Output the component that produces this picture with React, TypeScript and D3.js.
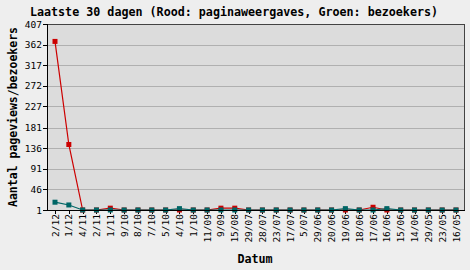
import React from "react";
import * as d3 from "d3";

const dates = ["2/12","1/12","4/11","2/11","1/11","9/10","8/10","7/10","5/10","4/10","1/10","11/09","9/09","15/08","29/07","28/07","23/07","17/07","5/07","29/06","20/06","19/06","18/06","17/06","16/06","15/06","14/06","29/05","23/05","16/05"];
const pageviews = [369,144,1,1,5,1,1,1,1,1,1,1,5,5,1,1,1,1,1,1,1,1,1,7,1,1,1,1,1,1];
const visitors = [18,12,1,1,1,1,1,1,1,4,1,1,1,1,1,1,1,1,1,1,1,4,1,1,4,1,1,1,1,1];
const yTicks = [1,46,91,136,181,227,272,317,362,407];

const W = 470, H = 270;
const L = 47, R = 465, T = 24, B = 210;
const mono = "'DejaVu Sans Mono', monospace";

export default function App() {
  const x = d3.scalePoint<string>().domain(dates).range([55, 456]);
  const y = d3.scaleLinear().domain([1, 407]).range([B, T]);
  const line = (vals: number[]) =>
    d3.line<number>().x((_, i) => x(dates[i])!).y((v) => y(v))(vals) || "";
  const ms = 5;
  return (
    <svg width={W} height={H} style={{ position: "absolute", left: 0, top: 0 }}>
      <rect x={0} y={0} width={W} height={H} fill="#eeeeee" />
      <text x={234} y={16} textAnchor="middle" fontFamily={mono} fontWeight="bold" fontSize={11.7} fill="#000">
        Laatste 30 dagen (Rood: paginaweergaves, Groen: bezoekers)
      </text>
      <rect x={L} y={T} width={R - L} height={B - T} fill="#dcdcdc" />
      {yTicks.slice(1, -1).map((t) => (
        <line key={t} x1={L} x2={R} y1={Math.round(y(t)) + 0.5} y2={Math.round(y(t)) + 0.5} stroke="#b0b0b0" />
      ))}
      <line x1={L} x2={R} y1={T + 0.5} y2={T + 0.5} stroke="#444" />
      <line x1={R - 0.5} x2={R - 0.5} y1={T} y2={B} stroke="#444" />
      <line x1={L + 0.5} x2={L + 0.5} y1={T} y2={B} stroke="#000" />
      {yTicks.map((t) => (
        <g key={t}>
          <line x1={L - 4} x2={L} y1={Math.round(y(t)) + 0.5} y2={Math.round(y(t)) + 0.5} stroke="#000" />
          <text x={42} y={y(t) + 3.5} textAnchor="end" fontFamily={mono} fontSize={9.5} fill="#000">{t}</text>
        </g>
      ))}
      {dates.map((d) => (
        <g key={d}>
          <line x1={Math.round(x(d)!) + 0.5} x2={Math.round(x(d)!) + 0.5} y1={B} y2={B + 4} stroke="#000" />
          <text transform={`translate(${x(d)! + 3.5},${B + 4}) rotate(-90)`} textAnchor="end" fontFamily={mono} fontSize={9.5} fill="#000">{d}</text>
        </g>
      ))}
      <path d={line(pageviews)} fill="none" stroke="#cc0000" strokeWidth={1.2} />
      {pageviews.map((v, i) => (
        <rect key={"r" + i} x={x(dates[i])! - ms / 2} y={y(v) - ms / 2} width={ms} height={ms} fill="#cc0000" />
      ))}
      <path d={line(visitors)} fill="none" stroke="#006666" strokeWidth={1.2} />
      {visitors.map((v, i) => (
        <rect key={"g" + i} x={x(dates[i])! - ms / 2} y={y(v) - ms / 2} width={ms} height={ms} fill="#006666" />
      ))}
      <line x1={L} x2={R} y1={B + 0.5} y2={B + 0.5} stroke="#000" />
      <text transform={`translate(17,117) rotate(-90)`} textAnchor="middle" fontFamily={mono} fontWeight="bold" fontSize={11.5} fill="#000">
        Aantal pageviews/bezoekers
      </text>
      <text x={255} y={263} textAnchor="middle" fontFamily={mono} fontWeight="bold" fontSize={11.7} fill="#000">Datum</text>
    </svg>
  );
}
